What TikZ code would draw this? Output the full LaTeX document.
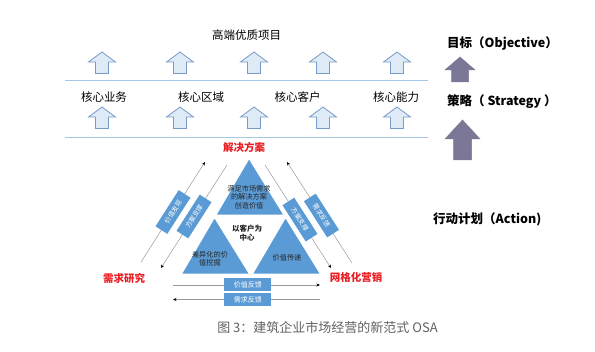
\documentclass[tikz,border=0pt]{standalone}
\usepackage{fontspec}
\setmainfont{Noto Sans CJK SC}
\usetikzlibrary{arrows.meta}
\definecolor{triblue}{RGB}{91,155,213}
\definecolor{paleblue}{RGB}{222,235,247}
\definecolor{edgeblue}{RGB}{120,155,200}
\definecolor{rulerblue}{RGB}{165,200,232}
\definecolor{levelgray}{RGB}{122,120,150}
\definecolor{labelred}{RGB}{235,30,35}
\newcommand{\upblock}[7]{\filldraw[#7] (#1,#2) -- ++({#3/2},#4) -- ++({(#5-#3)/2},0) -- ++(0,{#6-#4}) -- ++({-#5},0) -- ++(0,{#4-#6}) -- ++({(#5-#3)/2},0) -- cycle;}
\tikzset{
	hollowup/.style={fill=paleblue, draw=edgeblue, line width=0.8pt, line join=miter},
	levelup/.style={fill=levelgray, draw=levelgray, line width=0.5pt},
	rulerline/.style={draw=rulerblue, line width=0.8pt},
	corelabel/.style={font=\fontsize{11.5}{12}\selectfont},
	redlabel/.style={font=\fontsize{10.5}{11}\selectfont\bfseries, text=labelred},
	levellabel/.style={font=\fontsize{12.5}{13}\selectfont\bfseries, anchor=west, inner sep=0pt},
	tripart/.style={fill=triblue, draw=white, line width=2.5pt},
	tritext/.style={font=\fontsize{7.2}{8.3}\selectfont, align=center, text=black!85, inner sep=0pt},
	sidebox/.style={fill=triblue, text=white, minimum width=43pt, minimum height=14pt, inner sep=0pt, font=\fontsize{6.5}{7}\selectfont},
	footbox/.style={fill=triblue, text=white, minimum width=47pt, minimum height=13pt, inner sep=0pt, font=\fontsize{7}{7.5}\selectfont},
	flowline/.style={draw=gray!80, line width=0.5pt},
	captext/.style={font=\fontsize{13}{14}\selectfont, text=black!62}
}
\begin{document}
\begin{tikzpicture}[x=1pt, y=-1pt]
	\useasboundingbox (0,0) rectangle (595,352);
	\node[corelabel] (peak) at (246.5,35) {高端优质项目};
	\upblock{102}{52}{27}{10}{13}{21.5}{hollowup}
	\upblock{180}{52}{27}{10}{13}{21.5}{hollowup}
	\upblock{254}{52}{27}{10}{13}{21.5}{hollowup}
	\upblock{323}{52}{27}{10}{13}{21.5}{hollowup}
	\upblock{397}{52}{27}{10}{13}{21.5}{hollowup}
	\draw[rulerline] (65,80) -- (428,80);
	\node[corelabel] (business) at (104,97) {核心业务};
	\node[corelabel] (region) at (201,97) {核心区域};
	\node[corelabel] (client) at (297.5,97) {核心客户};
	\node[corelabel] (ability) at (396,97) {核心能力};
	\upblock{102}{107}{27}{10}{13}{21.5}{hollowup}
	\upblock{180}{107}{27}{10}{13}{21.5}{hollowup}
	\upblock{254}{107}{27}{10}{13}{21.5}{hollowup}
	\upblock{323}{107}{27}{10}{13}{21.5}{hollowup}
	\upblock{397}{107}{27}{10}{13}{21.5}{hollowup}
	\draw[rulerline] (65,137) -- (428,137);
	\coordinate (apex) at (249,157);
	\coordinate (baseL) at (180,275);
	\coordinate (baseR) at (322,275);
	\coordinate (midL) at (214.5,216);
	\coordinate (midR) at (285.5,216);
	\coordinate (midB) at (251,275);
	\filldraw[tripart] (apex) -- (midL) -- (midR) -- cycle;
	\filldraw[tripart] (midL) -- (baseL) -- (midB) -- cycle;
	\filldraw[tripart] (midR) -- (midB) -- (baseR) -- cycle;
	\node[tritext] (offer) at (249,197) {满足市场需求\\的解决方案\\创造价值};
	\node[tritext, font=\fontsize{7.5}{9}\selectfont\bfseries] (hub) at (247,233) {以客户为\\中心};
	\node[tritext] (mining) at (210,259) {差异化的价\\值挖掘};
	\node[tritext] (delivery) at (287,258) {价值传递};
	\node[redlabel] (solution) at (244,147) {解决方案};
	\node[redlabel] (research) at (124,278) {需求研究};
	\node[redlabel] (grid) at (356,277) {网格化营销};
	\coordinate (lo1) at (141,262);
	\coordinate (lo2) at (205,162);
	\coordinate (li1) at (227,165);
	\coordinate (li2) at (161,268);
	\coordinate (ri1) at (265,165);
	\coordinate (ri2) at (331,268);
	\coordinate (ro1) at (352,263);
	\coordinate (ro2) at (287,162);
	\draw[flowline, -{Stealth[length=3.5pt, width=3pt, black]}] (lo1) -- (lo2) node[sidebox, sloped, pos=0.5] (discover) {价值发现};
	\draw[flowline, -{Stealth[length=3.5pt, width=3pt, black]}] (li1) -- (li2) node[sidebox, sloped, pos=0.5] (supportL) {方案支撑};
	\draw[flowline, -{Stealth[length=3.5pt, width=3pt, black]}] (ri1) -- (ri2) node[sidebox, sloped, pos=0.53] (supportR) {方案支撑};
	\draw[flowline, -{Stealth[length=3.5pt, width=3pt, black]}] (ro1) -- (ro2) node[sidebox, sloped, pos=0.47] (demandR) {需求反馈};
	\coordinate (fa1) at (173,285);
	\coordinate (fa2) at (320,285);
	\coordinate (fb1) at (320,299.5);
	\coordinate (fb2) at (173,299.5);
	\draw[flowline, -{Stealth[length=3.5pt, width=3pt, black]}] (fa1) -- (fa2) node[footbox, pos=0.51] (valuefb) {价值反馈};
	\draw[flowline, -{Stealth[length=3.5pt, width=3pt, black]}] (fb1) -- (fb2) node[footbox, pos=0.49] (demandfb) {需求反馈};
	\node[levellabel] (objective) at (447,43) {目标（Objective）};
	\upblock{460}{57}{30}{13}{17}{25}{levelup}
	\node[levellabel] (strategy) at (447,102) {策略（ Strategy ）};
	\upblock{462.5}{120}{35}{19}{18}{40}{levelup}
	\node[levellabel] (action) at (433,219) {行动计划（Action)};
	\node[captext] (figcap) at (327.5,328) {图 3：建筑企业市场经营的新范式 OSA};
\end{tikzpicture}
\end{document}
